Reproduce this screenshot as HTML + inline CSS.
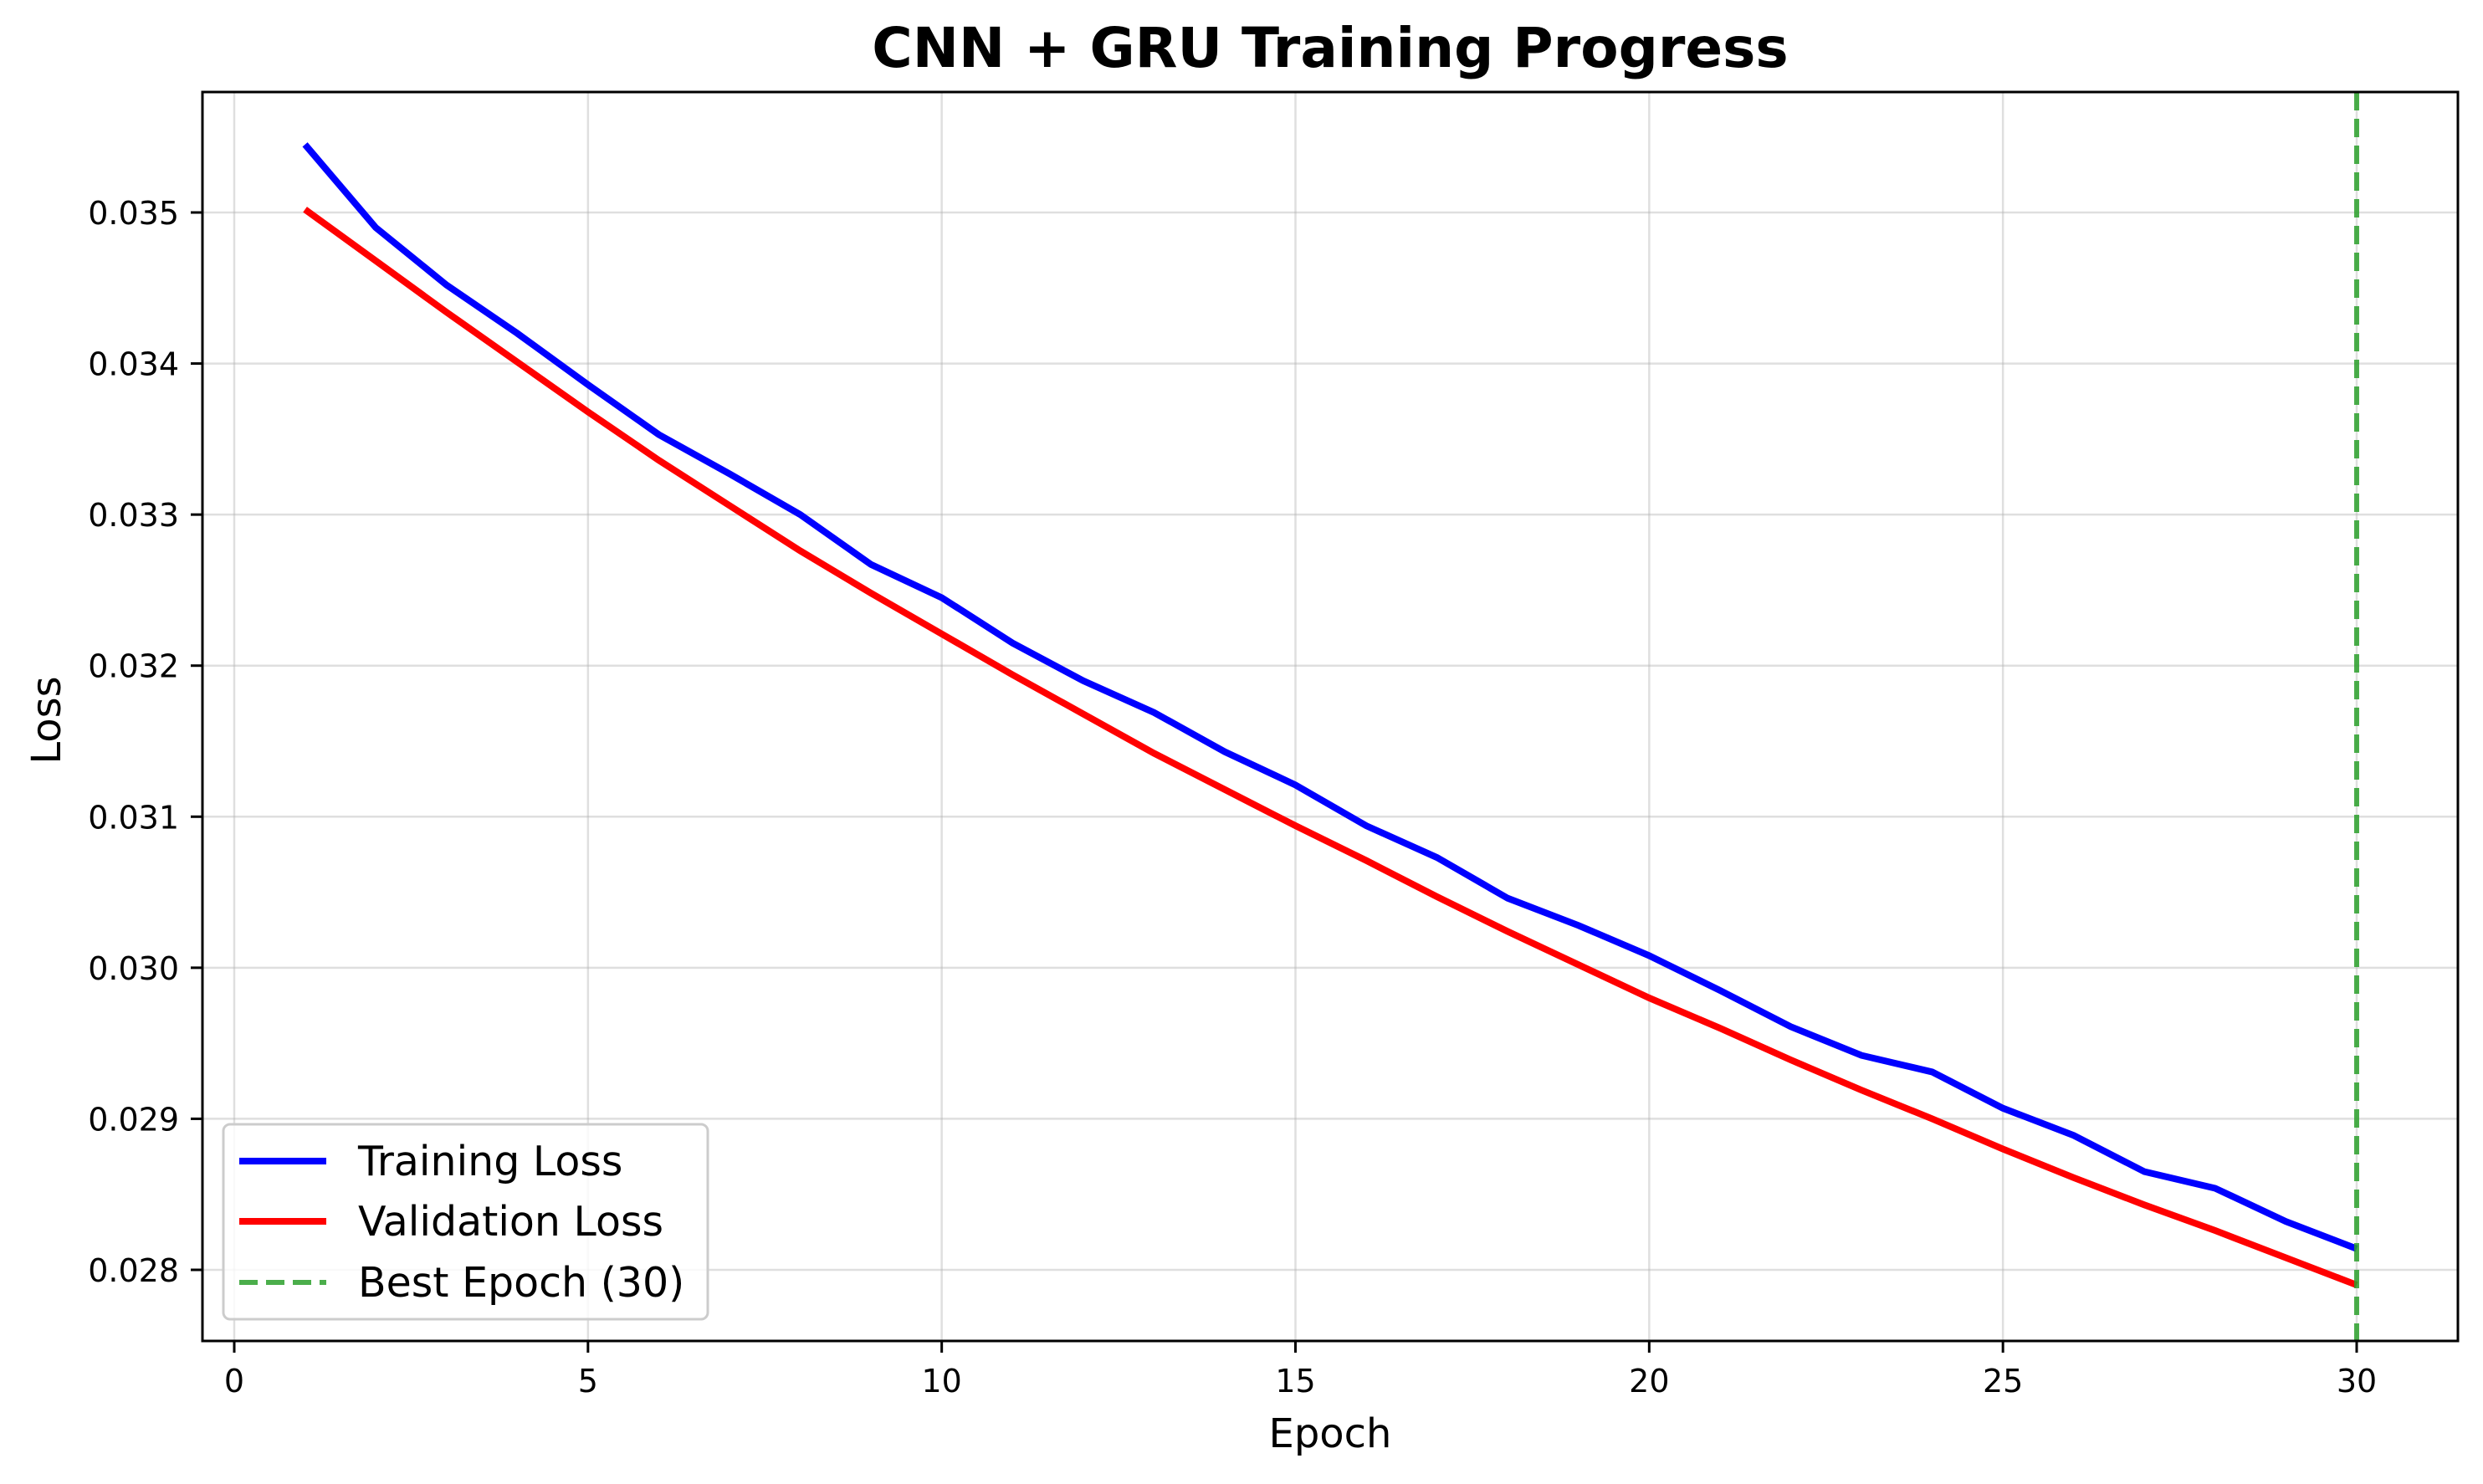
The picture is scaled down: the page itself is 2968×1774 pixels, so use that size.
<!DOCTYPE html>
<html><head><meta charset="utf-8"><style>
body{margin:0;background:#fff}
svg text{font-family:"DejaVu Sans","Liberation Sans",sans-serif}
</style></head><body>
<svg id="chart" width="2968" height="1769" xmlns="http://www.w3.org/2000/svg">
<rect width="2968" height="1769" fill="#fff"/>
<text x="1590" y="80" text-anchor="middle" font-size="66" font-weight="bold">CNN + GRU Training Progress</text>
<g id="grid"></g>
<g id="series"></g>
<rect x="242" y="110" width="2696" height="1493" fill="none" stroke="#000" stroke-width="3"/>
<g id="axes"></g>
<text x="1590" y="1730" text-anchor="middle" font-size="48">Epoch</text>
<text transform="translate(72,861) rotate(-90)" text-anchor="middle" font-size="48">Loss</text>
<g>
<rect x="267" y="1344" width="579" height="233" rx="8" fill="#fff" fill-opacity="0.8" stroke="#ccc" stroke-width="3"/>
<line x1="286" y1="1388" x2="390" y2="1388" stroke="#0000ff" stroke-width="8"/>
<text x="428" y="1405" font-size="49">Training Loss</text>
<line x1="286" y1="1460" x2="390" y2="1460" stroke="#ff0000" stroke-width="8"/>
<text x="428" y="1477" font-size="49">Validation Loss</text>
<line x1="286" y1="1533" x2="390" y2="1533" stroke="#2ca02c" stroke-opacity="0.85" stroke-width="6" stroke-dasharray="22,10"/>
<text x="428" y="1550" font-size="49">Best Epoch (30)</text>
</g>
</svg>
<script>
const epochs=[1,2,3,4,5,6,7,8,9,10,11,12,13,14,15,16,17,18,19,20,21,22,23,24,25,26,27,28,29,30];
const trainLoss=[0.03545,0.03490,0.03452,0.03420,0.03386,0.03353,0.03327,0.03300,0.03267,0.03245,0.03215,0.03190,0.03169,0.03143,0.03121,0.03094,0.03073,0.03046,0.03028,0.03008,0.02985,0.02961,0.02942,0.02931,0.02907,0.02889,0.02865,0.02854,0.02832,0.02814];
const valLoss=[0.03502,0.03468,0.03434,0.03401,0.03368,0.03336,0.03306,0.03276,0.03248,0.03221,0.03194,0.03168,0.03142,0.03118,0.03094,0.03071,0.03047,0.03024,0.03002,0.02980,0.02960,0.02939,0.02919,0.02900,0.02880,0.02861,0.02843,0.02826,0.02808,0.02790];
const bestEpoch=30;
const xTicks=[0,5,10,15,20,25,30];
const yTicks=[0.028,0.029,0.030,0.031,0.032,0.033,0.034,0.035];
const NS="http://www.w3.org/2000/svg";
function xs(v){return 280+(v-0)*(2817-280)/30;}
function ys(v){return 1518-(v-0.028)*(1518-254)/0.007;}
function mk(tag,attrs,parent){const e=document.createElementNS(NS,tag);for(const k in attrs)e.setAttribute(k,attrs[k]);parent.appendChild(e);return e;}
const grid=document.getElementById('grid'),axes=document.getElementById('axes'),series=document.getElementById('series');
xTicks.forEach(t=>{
  const g=mk('line',{x1:xs(t),x2:xs(t),y1:110,y2:1603,stroke:'#b0b0b0','stroke-opacity':0.4,'stroke-width':2.5},grid);
  
  
  const tk=mk('line',{x1:xs(t),x2:xs(t),y1:1603,y2:1617,stroke:'#000','stroke-width':3},axes);
  
  
  const tx=mk('text',{x:xs(t),y:1664,'text-anchor':'middle','font-size':38},axes);
  tx.textContent=String(t);
  
  
});
yTicks.forEach(t=>{
  const g=mk('line',{x1:242,x2:2938,y1:ys(t),y2:ys(t),stroke:'#b0b0b0','stroke-opacity':0.4,'stroke-width':2.5},grid);
  
  
  const tk=mk('line',{x1:228,x2:242,y1:ys(t),y2:ys(t),stroke:'#000','stroke-width':3},axes);
  
  
  const tx=mk('text',{x:214,y:ys(t)+14,'text-anchor':'end','font-size':38},axes);
  tx.textContent=t.toFixed(3);
  
  
});
function pts(arr){return arr.map((v,i)=>xs(epochs[i])+','+ys(v)).join(' ');}
const tl=mk('polyline',{points:pts(trainLoss),fill:'none',stroke:'#0000ff','stroke-width':8},series);


const vl=mk('polyline',{points:pts(valLoss),fill:'none',stroke:'#ff0000','stroke-width':8},series);


const bl=mk('line',{x1:xs(bestEpoch),x2:xs(bestEpoch),y1:110,y2:1603,stroke:'#2ca02c','stroke-opacity':0.85,'stroke-width':6,'stroke-dasharray':'22,10'},series);


</script>
</body></html>
